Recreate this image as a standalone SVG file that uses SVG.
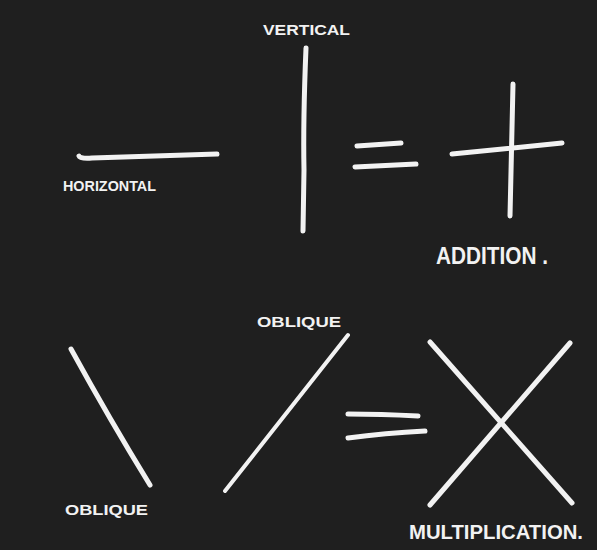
<svg xmlns="http://www.w3.org/2000/svg" width="597" height="550" viewBox="0 0 597 550">
  <style>
    .chalk { fill: none; stroke: #f2f2f2; stroke-width: 5; stroke-linecap: round; stroke-linejoin: round; }
    .thin { stroke-width: 4; }
    .lbl { fill: #f2f2f2; font-family: "Liberation Sans", "DejaVu Sans", sans-serif; font-weight: bold; }
  </style>
  <rect width="597" height="550" fill="#1f1f1f"/>

  <g id="horizontal">
    <path class="chalk" d="M79 156 Q80 159 92 158 L217 154"/>
    <text class="lbl" x="63" y="191" font-size="15" textLength="93" lengthAdjust="spacingAndGlyphs">HORIZONTAL</text>
  </g>

  <g id="vertical">
    <path class="chalk" d="M306 48 Q303 120 304 170 L303 231"/>
    <text class="lbl" x="263" y="35" font-size="15" textLength="87" lengthAdjust="spacingAndGlyphs">VERTICAL</text>
  </g>

  <g id="equals-top">
    <path class="chalk" d="M357 146 L401 143"/>
    <path class="chalk" d="M355 167 L416 164"/>
  </g>

  <g id="addition">
    <path class="chalk" d="M452 154 L562 143"/>
    <path class="chalk" d="M513 84 L510 216"/>
    <text class="lbl" x="436" y="264" font-size="23" textLength="112" lengthAdjust="spacingAndGlyphs">ADDITION .</text>
  </g>

  <g id="oblique-left">
    <path class="chalk" d="M71 349 Q110 420 150 485"/>
    <text class="lbl" x="65" y="515" font-size="15" textLength="83" lengthAdjust="spacingAndGlyphs">OBLIQUE</text>
  </g>

  <g id="oblique-right">
    <path class="chalk thin" d="M348 335 L225 491"/>
    <text class="lbl" x="257" y="327" font-size="15" textLength="84" lengthAdjust="spacingAndGlyphs">OBLIQUE</text>
  </g>

  <g id="equals-bottom">
    <path class="chalk" d="M348 414 Q380 414 418 416"/>
    <path class="chalk" d="M348 438 Q385 433 425 431"/>
  </g>

  <g id="multiplication">
    <path class="chalk" d="M430 342 L572 503"/>
    <path class="chalk" d="M570 343 L430 505"/>
    <text class="lbl" x="409" y="539" font-size="20" textLength="174" lengthAdjust="spacingAndGlyphs">MULTIPLICATION.</text>
  </g>
</svg>
